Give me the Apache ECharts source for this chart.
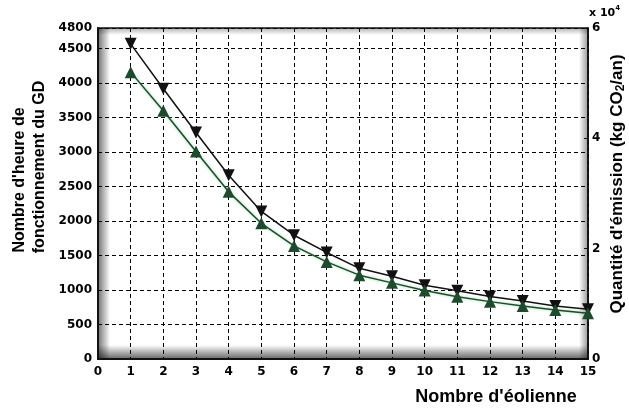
<!DOCTYPE html>
<html>
<head>
<meta charset="utf-8">
<script src="https://cdn.jsdelivr.net/npm/echarts@6/dist/echarts.min.js"></script>
<style>
  html, body { margin: 0; padding: 0; background: #fff; }
  #chart { width: 629px; height: 410px; }
</style>
</head>
<body>
<div id="chart"></div>
<script>
// Number of wind turbines on the x axis
const turbines = [1, 2, 3, 4, 5, 6, 7, 8, 9, 10, 11, 12, 13, 14, 15];
// Operating hours of the diesel generator (left axis)
const hoursGD = [4570, 3920, 3285, 2665, 2140, 1795, 1545, 1315, 1200, 1070, 990, 905, 840, 770, 720];
// Yearly CO2 emission in kg (right axis)
const emissionCO2 = [52000, 45000, 37600, 30300, 24600, 20500, 17600, 15200, 13800, 12400, 11300, 10400, 9600, 8900, 8300];

const G = { left: 98, top: 28, right: 41, bottom: 51 };
const W = 629, H = 410;
const pw = W - G.left - G.right, ph = H - G.top - G.bottom;

const tickFont = { fontFamily: 'DejaVu Sans', fontWeight: 'bold', fontSize: 12, color: '#000' };
const titleFont = { fontFamily: 'Liberation Sans', fontWeight: 'bold', color: '#111' };

// soft inset shadow strip along one side of the plot frame
function shade(x, y, w, h, gx0, gy0, gx1, gy1, alpha) {
  return {
    type: 'rect', z: 0, silent: true,
    shape: { x, y, width: w, height: h },
    style: {
      fill: new echarts.graphic.LinearGradient(gx0, gy0, gx1, gy1, [
        { offset: 0, color: 'rgba(0,0,0,' + alpha + ')' },
        { offset: 1, color: 'rgba(0,0,0,0)' }
      ])
    }
  };
}

const chart = echarts.init(document.getElementById('chart'), null, { renderer: 'canvas' });

chart.setOption({
  animation: false,
  backgroundColor: '#fff',
  grid: {
    left: G.left, top: G.top, right: G.right, bottom: G.bottom,
    show: true, backgroundColor: '#fff', borderColor: '#111', borderWidth: 1.5
  },
  xAxis: {
    type: 'value', min: 0, max: 15, interval: 1,
    axisLine: { show: true, onZero: false, lineStyle: { color: '#111', width: 2 } },
    axisTick: { show: false },
    axisLabel: Object.assign({ margin: 7, formatter: v => String(v) }, tickFont),
    splitLine: { show: true, lineStyle: { color: '#000', type: [4, 3], width: 1 } }
  },
  yAxis: [
    {
      type: 'value', min: 0, max: 4800, interval: 500,
      axisLine: { show: true, lineStyle: { color: '#111', width: 2 } },
      axisTick: { show: false },
      axisLabel: Object.assign({ margin: 6, showMaxLabel: true, formatter: v => String(v) }, tickFont),
      splitLine: { show: true, lineStyle: { color: '#000', type: [4, 3], width: 1 } }
    },
    {
      type: 'value', min: 0, max: 60000, interval: 20000, position: 'right',
      axisLine: { show: true, lineStyle: { color: '#111', width: 1.5 } },
      axisTick: { show: true, inside: true, length: 4, lineStyle: { color: '#111' } },
      axisLabel: Object.assign({ margin: 4, formatter: v => String(v / 10000) }, tickFont),
      splitLine: { show: false }
    }
  ],
  series: [
    {
      type: 'line', yAxisIndex: 0,
      data: turbines.map((t, i) => [t, hoursGD[i]]),
      symbol: 'triangle', symbolRotate: 180, symbolSize: 12,
      itemStyle: { color: '#111' },
      lineStyle: { color: '#111', width: 1.5 },
      z: 3
    },
    {
      type: 'line', yAxisIndex: 1,
      data: turbines.map((t, i) => [t, emissionCO2[i]]),
      symbol: 'triangle', symbolSize: 12,
      itemStyle: { color: '#1e4a2e' },
      lineStyle: { color: '#1e4a2e', width: 1.5, shadowColor: 'rgba(110,210,130,0.8)', shadowBlur: 3 },
      z: 4
    }
  ],
  graphic: [
    shade(G.left, G.top, 12, ph, 0, 0, 1, 0, 0.55),
    shade(G.left, G.top + ph - 14, pw, 14, 0, 1, 0, 0, 0.6),
    shade(G.left, G.top, pw, 7, 0, 0, 0, 1, 0.3),
    shade(G.left + pw - 9, G.top, 9, ph, 1, 0, 0, 0, 0.4),
    // axis titles
    {
      type: 'text', x: 20, y: 180, rotation: Math.PI / 2, silent: true,
      style: Object.assign({ text: "Nombre d'heure de", fontSize: 16, align: 'center', verticalAlign: 'middle' }, titleFont)
    },
    {
      type: 'text', x: 40, y: 167, rotation: Math.PI / 2, silent: true,
      style: Object.assign({ text: 'fonctionnement du GD', fontSize: 16, align: 'center', verticalAlign: 'middle' }, titleFont)
    },
    {
      type: 'text', x: 496, y: 397, silent: true,
      style: Object.assign({ text: "Nombre d'éolienne", fontSize: 18, align: 'center', verticalAlign: 'middle' }, titleFont)
    },
    {
      type: 'text', x: 617, y: 184, rotation: Math.PI / 2, silent: true,
      style: {
        text: "{t|Quantité d'émission (kg CO}{s|2}{t|/an)}",
        align: 'center', verticalAlign: 'middle',
        rich: {
          t: Object.assign({ fontSize: 17 }, titleFont),
          s: Object.assign({ fontSize: 12, padding: [8, 0, 0, 0] }, titleFont)
        }
      }
    },
    {
      type: 'text', x: 589, y: 13, silent: true,
      style: {
        text: '{a|x 10}{b|4}', align: 'left', verticalAlign: 'middle',
        rich: {
          a: { fontFamily: 'DejaVu Sans', fontWeight: 'bold', fontSize: 11, color: '#000' },
          b: { fontFamily: 'DejaVu Sans', fontWeight: 'bold', fontSize: 7, color: '#000', padding: [0, 0, 9, 0] }
        }
      }
    }
  ]
});
</script>
</body>
</html>
